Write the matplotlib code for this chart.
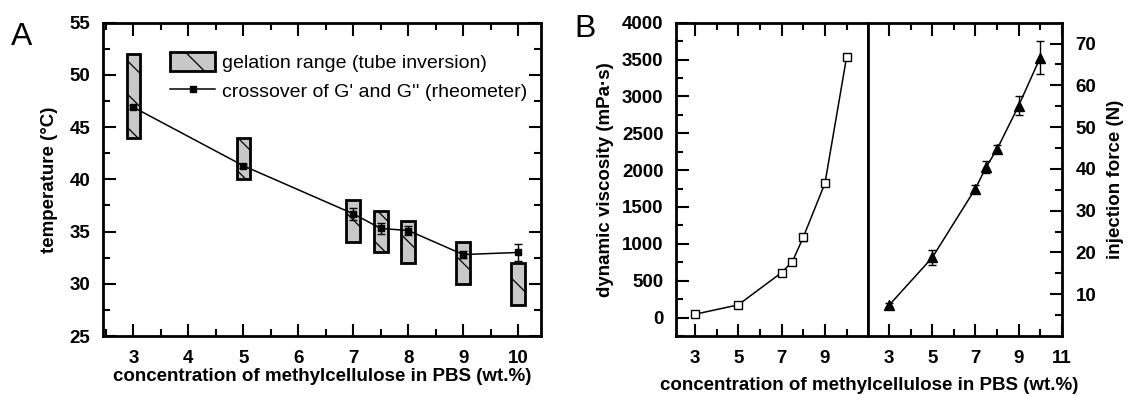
import matplotlib
matplotlib.use('Agg')
import matplotlib.pyplot as plt
from matplotlib.ticker import MultipleLocator
from matplotlib.patches import Patch
from matplotlib.lines import Line2D

plt.rcParams['font.family'] = ['Liberation Sans', 'DejaVu Sans']
plt.rcParams['hatch.color'] = '#555555'
plt.rcParams['hatch.linewidth'] = 0.9

# panel A: gelation range (tube inversion) and G'/G'' crossover
conc_a = [3, 5, 7, 7.5, 8, 9, 10]
gel_low = [44, 40, 34, 33, 32, 30, 28]
gel_high = [52, 44, 38, 37, 36, 34, 32]
cross_t = [46.9, 41.3, 36.7, 35.3, 35.1, 32.8, 33.0]
cross_err = [0.2, 0.2, 0.6, 0.5, 0.4, 0.3, 0.8]

# panel B: viscosity and injection force
conc_b = [3, 5, 7, 7.5, 8, 9, 10]
viscosity = [45, 172, 610, 760, 1090, 1822, 3535]
visc_err = [15, 20, 30, 35, 45, 30, 30]
force = [7.4, 18.8, 35.3, 40.5, 44.7, 55.1, 66.6]
force_err = [0.5, 1.8, 0.8, 1.5, 1.0, 2.3, 4.0]

W, H = 1129, 396
fig = plt.figure(figsize=(W / 100, H / 100), dpi=100)

lab_font = dict(fontsize=13.5, fontweight='bold')


def style(ax):
    for s in ax.spines.values():
        s.set_linewidth(2)
    ax.tick_params(which='major', length=9, direction='in', width=1.5, labelsize=13.5)
    ax.tick_params(which='minor', length=5, direction='in', width=1.5)
    for lab in ax.get_xticklabels() + ax.get_yticklabels():
        lab.set_fontweight('bold')


# ---------------- A ----------------
axA = fig.add_axes([102.7 / W, 1 - 336 / H, (540.7 - 102.7) / W, (336 - 22.7) / H])
heights = [h - l for h, l in zip(gel_high, gel_low)]
axA.bar(conc_a, heights, bottom=gel_low, width=0.25, color='#c8c8c8',
        edgecolor='black', linewidth=2, hatch='\\', zorder=2)
axA.errorbar(conc_a, cross_t, yerr=cross_err, color='black', lw=1.1,
             marker='s', ms=4.5, capsize=3, elinewidth=1, zorder=3)
axA.set_xlim(2.44, 10.41)
axA.set_ylim(25, 55)
axA.xaxis.set_major_locator(MultipleLocator(1))
axA.xaxis.set_minor_locator(MultipleLocator(0.5))
axA.yaxis.set_major_locator(MultipleLocator(5))
axA.yaxis.set_minor_locator(MultipleLocator(2.5))
axA.tick_params(which='both', top=True, right=True)
axA.tick_params(axis='x', which='major', pad=10)
axA.tick_params(axis='y', which='major', pad=9)
style(axA)
axA.set_xlabel('concentration of methylcellulose in PBS (wt.%)', labelpad=1, **lab_font)
axA.set_ylabel('temperature (°C)', labelpad=8, **lab_font)

handles = [Patch(facecolor='#c8c8c8', edgecolor='black', linewidth=2, hatch='\\'),
           Line2D([], [], color='black', lw=1.1, marker='s', ms=4.5)]
axA.legend(handles, ['gelation range (tube inversion)',
                     "crossover of G' and G'' (rheometer)"],
           loc='upper right', frameon=False, fontsize=14, handlelength=2.3,
           handleheight=1.1, handletextpad=0.35, labelspacing=0.45,
           borderaxespad=0.3, bbox_to_anchor=(1.0, 0.95))

fig.text(22 / W, 1 - 37 / H, 'A', fontsize=23, ha='center', va='center')

# ---------------- B ----------------
axB1 = fig.add_axes([676 / W, 1 - 336 / H, (868.3 - 676) / W, (336 - 22.7) / H])
axB2 = fig.add_axes([868.3 / W, 1 - 336 / H, (1061.7 - 868.3) / W, (336 - 22.7) / H])

axB1.errorbar(conc_b, viscosity, yerr=visc_err, color='black', lw=1.1,
              marker='s', ms=6, mfc='white', mec='black', mew=1,
              capsize=3, elinewidth=1)
axB1.set_xlim(2.13, 11)
axB1.set_ylim(-250, 4000)
axB1.set_xticks([3, 5, 7, 9])
axB1.set_xticks([4, 6, 8, 10], minor=True)
axB1.yaxis.set_major_locator(MultipleLocator(500))
axB1.yaxis.set_minor_locator(MultipleLocator(250))
axB1.tick_params(which='both', top=True, right=False)
axB1.tick_params(axis='x', which='major', pad=10)
axB1.tick_params(axis='y', which='major', pad=9)
style(axB1)
axB1.set_ylabel('dynamic viscosity (mPa·s)', labelpad=6, **lab_font)

axB2.errorbar(conc_b, force, yerr=force_err, color='black', lw=1.1,
              marker='^', ms=7, mfc='black', mec='black',
              capsize=3, elinewidth=1)
axB2.set_xlim(2.03, 11)
axB2.set_ylim(0, 75)
axB2.set_xticks([3, 5, 7, 9, 11])
axB2.set_xticks([4, 6, 8, 10], minor=True)
axB2.set_yticks([10, 20, 30, 40, 50, 60, 70])
axB2.set_yticks([5, 15, 25, 35, 45, 55, 65], minor=True)
axB2.yaxis.tick_right()
axB2.yaxis.set_label_position('right')
axB2.tick_params(which='both', top=True, left=False, right=True)
axB2.tick_params(axis='x', which='major', pad=10)
axB2.tick_params(axis='y', which='major', pad=10)
style(axB2)
axB2.set_ylabel('injection force (N)', labelpad=8, **lab_font)

fig.text((676 + 1061.7) / 2 / W, 1 - 385 / H,
         'concentration of methylcellulose in PBS (wt.%)',
         ha='center', va='center', **lab_font)
fig.text(585 / W, 1 - 29 / H, 'B', fontsize=23, ha='center', va='center')

fig.savefig('out.png', dpi=100)
